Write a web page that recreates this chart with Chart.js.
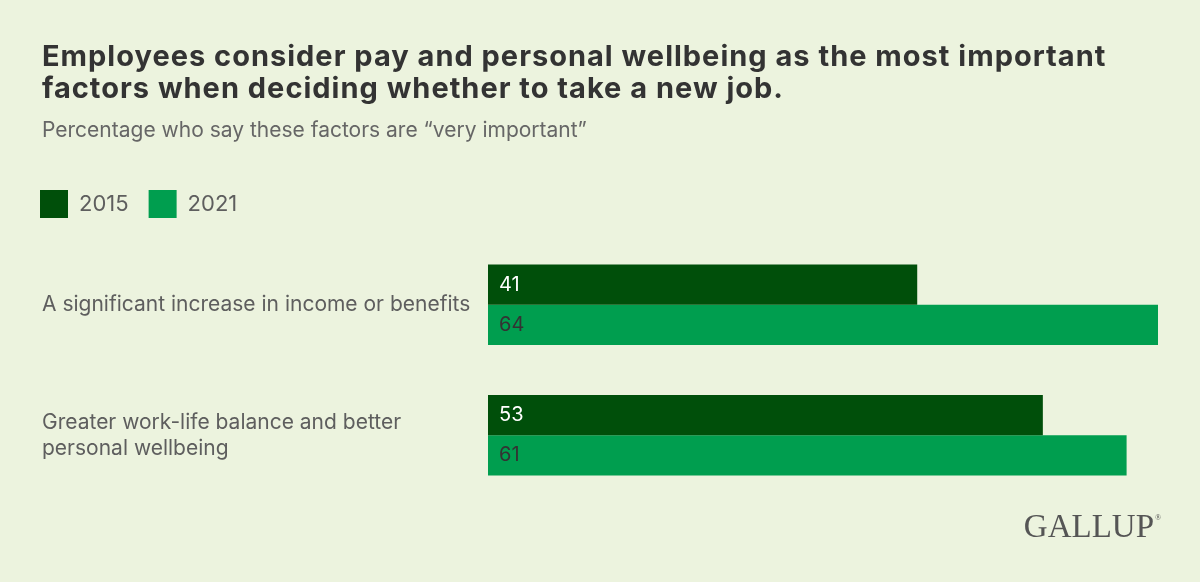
<!DOCTYPE html>
<html>
<head>
<meta charset="utf-8">
<script src="https://cdn.jsdelivr.net/npm/chart.js@4"></script>
<style>
  html, body { margin: 0; padding: 0; background: #ECF3DE; }
  #wrap { width: 1200px; height: 582px; }
</style>
</head>
<body>
<div id="wrap"><canvas id="myChart" width="1200" height="582"></canvas></div>
<script>
  const categories = [
    'A significant increase in income or benefits',
    ['Greater work-life balance and better', 'personal wellbeing']
  ];
  const years = ['2015', '2021'];
  const values2015 = [41, 53];
  const values2021 = [64, 61];

  const titleLines = [
    'Employees consider pay and personal wellbeing as the most important',
    'factors when deciding whether to take a new job.'
  ];
  const subtitle = 'Percentage who say these factors are \u201cvery important\u201d';

  const FONT = 'Inter, "Noto Sans", sans-serif';

  // headline + subtitle (drawn by hand so the spacing can be matched)
  const header = {
    id: 'header',
    afterDraw(chart) {
      const ctx = chart.ctx;
      ctx.save();
      ctx.textAlign = 'left';
      ctx.textBaseline = 'alphabetic';
      ctx.fillStyle = '#333333';
      ctx.font = 'bold 29px ' + FONT;
      if ('letterSpacing' in ctx) ctx.letterSpacing = '1px';
      titleLines.forEach((t, i) => ctx.fillText(t, 42, 66 + i * 32));
      if ('letterSpacing' in ctx) ctx.letterSpacing = '0px';
      ctx.fillStyle = '#666666';
      ctx.font = '21px ' + FONT;
      ctx.fillText(subtitle, 42, 137);
      ctx.restore();
    }
  };

  // value labels inside the bars, near the left edge
  const barLabels = {
    id: 'barLabels',
    afterDatasetsDraw(chart) {
      const ctx = chart.ctx;
      ctx.save();
      ctx.font = '20px ' + FONT;
      ctx.textAlign = 'left';
      ctx.textBaseline = 'middle';
      chart.data.datasets.forEach((ds, i) => {
        chart.getDatasetMeta(i).data.forEach((bar, j) => {
          ctx.fillStyle = i === 0 ? '#ffffff' : '#333333';
          ctx.fillText(ds.data[j], bar.base + 11, bar.y);
        });
      });
      ctx.restore();
    }
  };

  // legend sits flush with the title and a bit higher than the plot gap
  const legendShift = {
    id: 'legendShift',
    afterLayout(chart) {
      const lg = chart.legend;
      lg.left -= 22;
      lg.right -= 22;
      lg.top -= 11.5;
      lg.bottom -= 11.5;
    }
  };

  const logo = {
    id: 'logo',
    afterDraw(chart) {
      const ctx = chart.ctx;
      ctx.save();
      ctx.fillStyle = '#555555';
      ctx.font = '33px "Liberation Serif", "DejaVu Serif", serif';
      ctx.textAlign = 'right';
      ctx.textBaseline = 'alphabetic';
      ctx.fillText('GALLUP', 1154, 537);
      ctx.font = '8px "Liberation Serif", serif';
      ctx.textAlign = 'left';
      ctx.fillText('\u00ae', 1155, 520);
      ctx.restore();
    }
  };

  new Chart(document.getElementById('myChart'), {
    type: 'bar',
    data: {
      labels: categories,
      datasets: [{
        label: years[0],
        data: values2015,
        backgroundColor: '#004F0A',
        categoryPercentage: 0.615,
        barPercentage: 1
      }, {
        label: years[1],
        data: values2021,
        backgroundColor: '#009E4F',
        categoryPercentage: 0.615,
        barPercentage: 1
      }]
    },
    options: {
      indexAxis: 'y',
      responsive: false,
      animation: false,
      layout: { padding: { left: 42, right: 42, top: 181.5, bottom: 81.5 } },
      scales: {
        x: { display: false, min: 0, max: 64 },
        y: {
          grid: { display: false },
          border: { display: false },
          afterFit(scale) { scale.width = 446; },
          ticks: {
            crossAlign: 'far',
            color: '#5e5e5e',
            font: { family: FONT, size: 21, lineHeight: 1.24 }
          }
        }
      },
      plugins: {
        legend: {
          align: 'start',
          labels: {
            boxWidth: 28,
            boxHeight: 28,
            color: '#5e5e5e',
            font: { family: FONT, size: 22 },
            padding: 20
          }
        },
        tooltip: { enabled: false }
      }
    },
    plugins: [header, barLabels, legendShift, logo]
  });
</script>
</body>
</html>
